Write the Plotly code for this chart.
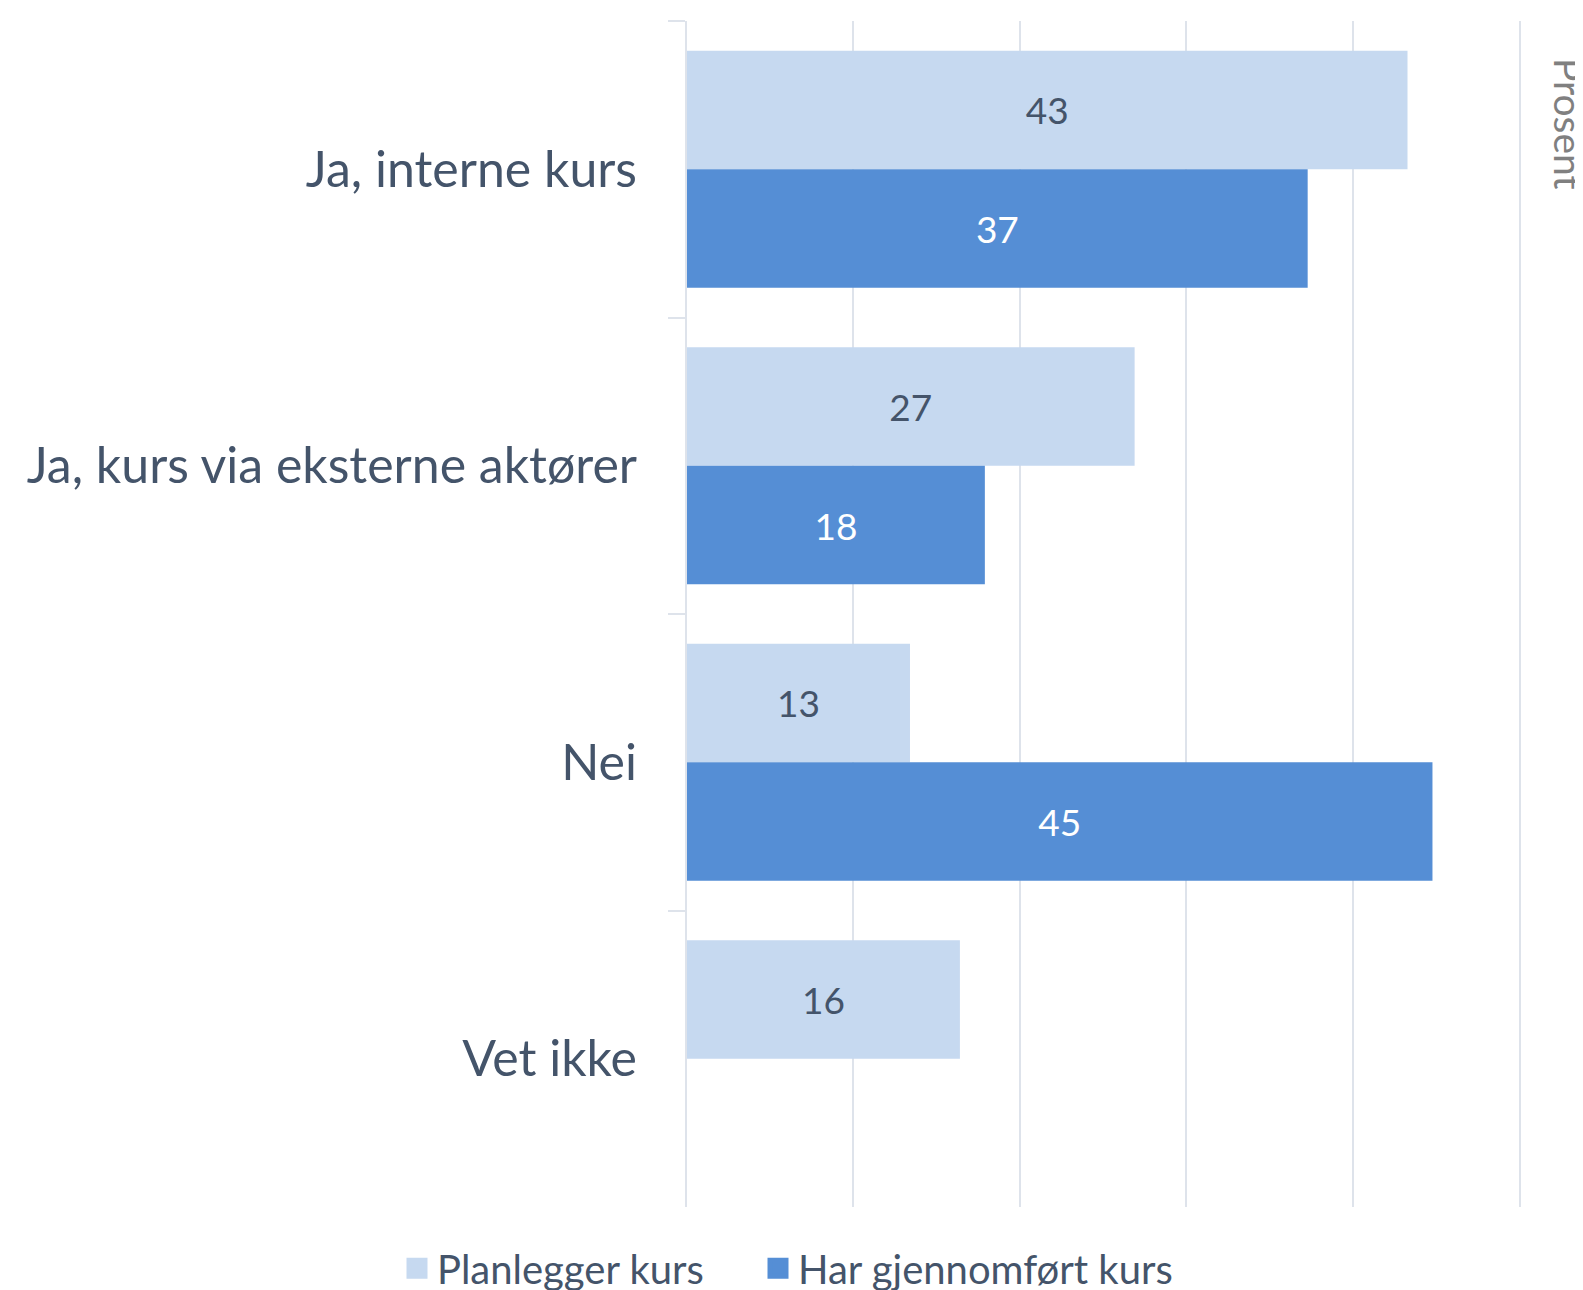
import plotly.graph_objects as go

categories = ["Ja, interne kurs", "Ja, kurs via eksterne aktører", "Nei", "Vet ikke"]
planlegger = [43.3, 26.9, 13.4, 16.4]
gjennomfort = [37.3, 17.9, 44.8, None]
series_names = ["Planlegger kurs", "Har gjennomført kurs"]
colors = ["#C6D9F0", "#558ED5"]
x_ticks = [0, 10, 20, 30, 40, 50]

FONT = "Lato"
TXT = "#44546A"
GRID = "#DEE3EB"

fig = go.Figure()
fig.add_trace(go.Bar(
    y=categories, x=planlegger, orientation="h", name=series_names[0],
    marker=dict(color=colors[0], line=dict(width=0)), showlegend=False,
    texttemplate="%{x:.0f}", textposition="inside", insidetextanchor="middle",
    textfont=dict(family=FONT, size=37, color=TXT), textangle=0,
))
fig.add_trace(go.Bar(
    y=categories, x=gjennomfort, orientation="h", name=series_names[1],
    marker=dict(color=colors[1], line=dict(width=0)), showlegend=False,
    texttemplate="%{x:.0f}", textposition="inside", insidetextanchor="middle",
    textfont=dict(family=FONT, size=37, color="white"), textangle=0,
))
# legend entries (each in its own legend so their spacing can match the original)
for name, col, lg in zip(series_names, colors, ["legend", "legend2"]):
    fig.add_trace(go.Scatter(x=[None], y=[None], mode="markers", name=name, legend=lg,
                             marker=dict(symbol="square", size=22, color=col,
                                         line=dict(color=col, width=5)),
                             showlegend=True, hoverinfo="skip"))

leg_common = dict(orientation="h", xref="container", xanchor="left",
                  yref="paper", y=-0.079, yanchor="bottom",
                  font=dict(family=FONT, size=40, color=TXT),
                  itemsizing="trace", bgcolor="rgba(0,0,0,0)")

fig.update_layout(
    width=1575, height=1282,
    margin=dict(l=679, r=64, t=13, b=83, autoexpand=False),
    paper_bgcolor="white", plot_bgcolor="white",
    barmode="group", bargap=0.2, bargroupgap=0,
    font=dict(family=FONT, color=TXT),
    showlegend=True,
    legend=dict(x=389 / 1575, **leg_common),
    legend2=dict(x=750 / 1575, **leg_common),
)

fig.update_xaxes(range=[0, 50], tickvals=x_ticks, showticklabels=False,
                 showgrid=True, gridcolor=GRID, gridwidth=2,
                 zeroline=False, showline=False, ticks="")
fig.update_yaxes(autorange="reversed", tickson="boundaries", ticks="outside",
                 ticklen=17, tickcolor=GRID, tickwidth=2,
                 showline=True, linecolor=GRID, linewidth=2, mirror=True,
                 showgrid=False, ticklabelstandoff=38,
                 tickfont=dict(family=FONT, size=50, color=TXT))

fig.add_annotation(text="Prosent", xref="paper", yref="paper", x=1.0, xshift=50, y=1.0, yshift=-35,
                   xanchor="center", yanchor="top", textangle=90, showarrow=False,
                   font=dict(family=FONT, size=39, color="#808080"))

fig.write_html("out.html")
